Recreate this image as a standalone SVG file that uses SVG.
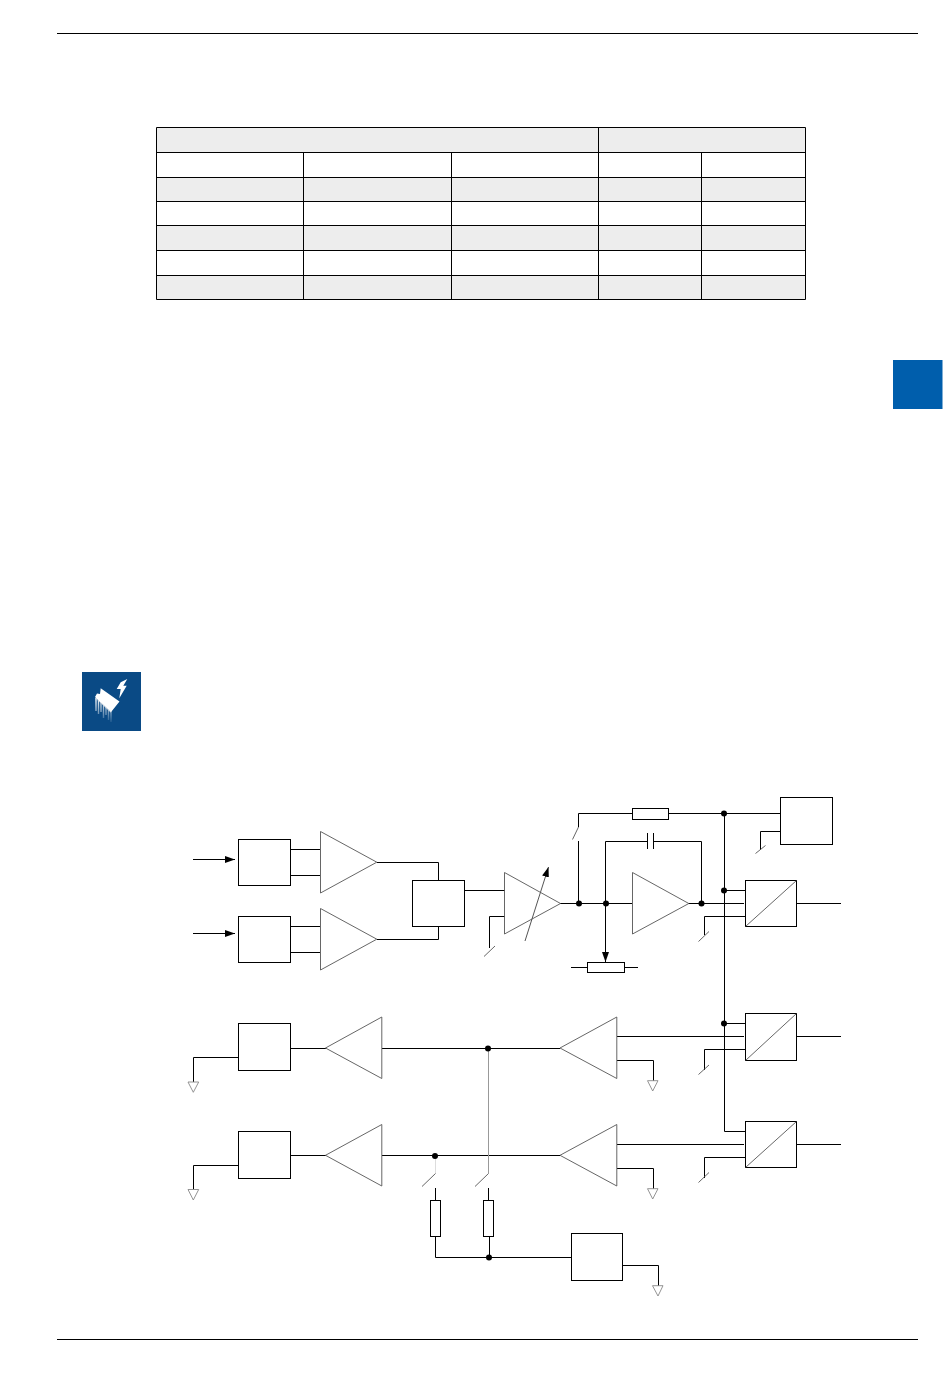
<svg xmlns="http://www.w3.org/2000/svg" width="950" height="1378" viewBox="0 0 950 1378">
<style>
.w{fill:none;stroke:#000;stroke-width:1}
.b{fill:#fff;stroke:#000;stroke-width:1}
.t{fill:#fff;stroke:#555;stroke-width:.9}
.g{fill:#fff;stroke:#888;stroke-width:.9}
.d{fill:#000;stroke:none}
.tick{fill:none;stroke:#555;stroke-width:.9}
.grey{fill:#ededed}
.pin{fill:none;stroke:url(#fade);stroke-width:1.4}
</style>
<defs>
<marker id="ah" markerUnits="userSpaceOnUse" markerWidth="11" markerHeight="8" refX="10" refY="3.5" orient="auto"><path d="M0 0L10 3.5L0 7Z" fill="#000"/></marker>
<linearGradient id="fade" gradientUnits="userSpaceOnUse" x1="0" y1="698" x2="0" y2="722"><stop offset="0" stop-color="#fff"/><stop offset="1" stop-color="#fff" stop-opacity=".1"/></linearGradient>
</defs>
<rect width="950" height="1378" fill="#fff"/>
<g id="page-rules"><path class="w" d="M57 33.5H918M57 1339.5H918"/></g>
<g id="tab"><rect x="893" y="360" width="49.5" height="49" fill="#005eac"/></g>
<g id="table">
<rect class="grey" x="156.5" y="127.5" width="649" height="25"/>
<rect class="grey" x="156.5" y="177.5" width="649" height="24"/>
<rect class="grey" x="156.5" y="225.5" width="649" height="25"/>
<rect class="grey" x="156.5" y="275.5" width="649" height="24"/>
<path class="w" d="M156.5 127.5H805.5V299.5H156.5ZM156.5 152.5H805.5M156.5 177.5H805.5M156.5 201.5H805.5M156.5 225.5H805.5M156.5 250.5H805.5M156.5 275.5H805.5M303.5 152.5V299.5M451.5 152.5V299.5M598.5 127.5V299.5M701.5 152.5V299.5"/>
</g>
<g id="icon">
<rect x="82" y="672" width="59" height="59" fill="#0a4a85"/>
<path fill="#fff" d="M127.3 679L120.7 682.3L116.7 689H120.7L119.3 698.3L126.7 685.7H123.3Z"/>
<path class="pin" d="M96 698V711M98.5 700V714M101 702V712M103.5 704V718M106 706V715M108.5 708V720M111 710V722"/>
<path fill="#fff" d="M95 697L97 693.5L100 694L100.7 688.3L119.5 701.5L110.7 712.5Z"/>
<path fill="none" stroke="#c8d2dc" stroke-width=".8" d="M96 698.5L110.7 711.5"/>
</g>
<g id="connectors">
<path class="w" marker-end="url(#ah)" d="M193 859.5H235"/>
<path class="w" marker-end="url(#ah)" d="M193 933.5H235"/>
<path class="w" d="M290 849.5H320M290 875.5H320M290 926.5H320M290 952.5H320"/>
<path class="w" d="M377 862.5H438.5V880M377 939.5H438.5V926"/>
<path class="w" d="M464 890.5H505M505 916.5H489.5V948"/>
<path class="tick" d="M484 956.5L495 946"/>
<path fill="none" stroke="#555" stroke-width="1" marker-end="url(#ah)" d="M525 941L548.5 867"/>
<path class="w" d="M560 903.5H632M688 903.5H744"/>
<path class="w" d="M578.5 903.5V841M578.5 827V813.5H632M669 813.5H780"/>
<path class="tick" d="M572.5 839.5L578.5 827"/>
<path class="w" d="M780 831.5H760.5V850"/>
<path class="tick" d="M755.5 853.5L765.5 845.5"/>
<path class="w" d="M605.5 903.5V841.5H647.5M653.5 841.5H701.5V903.5"/>
<path class="w" d="M647.5 833V849M653.5 833V849"/>
<path class="w" marker-end="url(#ah)" d="M605.5 903.5V962"/>
<path class="w" d="M571 967.5H587M625 967.5H638"/>
<path class="w" d="M724.5 813.5V1131.5H745M724 890.5H745M724 1023.5H745"/>
<path class="w" d="M745 916.5H704.5V935M745 1049.5H704.5V1070M745 1157.5H704.5V1178"/>
<path class="tick" d="M698.5 941.5L709 931.5M698.5 1074.5L709 1065M698.5 1182.5L709 1172.5"/>
<path class="w" d="M796 903.5H841M796 1036.5H841M796 1144.5H841"/>
<path class="w" d="M617 1036.5H744M617 1144.5H744"/>
<path class="w" d="M617 1060.5H653.5V1081M617 1168.5H653.5V1189"/>
<path class="w" d="M382 1048.5H560M382 1155.5H560M290 1048.5H326M290 1155.5H326"/>
<path class="w" d="M238 1057.5H193.5V1082M238 1165.5H193.5V1189.5"/>
<path fill="none" stroke="#999" stroke-width="1" d="M488.5 1048.5V1173.5"/>
<path fill="none" stroke="#ddd" stroke-width="1" d="M435.5 1155.5V1173.5"/>
<path class="tick" d="M475 1186.5L488.5 1173.5M422 1186.5L435.5 1173.5"/>
<path class="w" d="M488.5 1188V1200M435.5 1188V1200"/>
<path class="w" d="M489.5 1237V1257.5M435.5 1237V1257.5H571"/>
<path class="w" d="M623 1265.5H658.5V1286"/>
</g>
<g id="dots">
<circle class="d" cx="579" cy="903.5" r="3"/>
<circle class="d" cx="606" cy="903.5" r="3"/>
<circle class="d" cx="701.5" cy="903.5" r="3"/>
<circle class="d" cx="724" cy="813.5" r="3"/>
<circle class="d" cx="724" cy="890.5" r="3"/>
<circle class="d" cx="724" cy="1023.5" r="3"/>
<circle class="d" cx="488" cy="1048.5" r="3"/>
<circle class="d" cx="435" cy="1156" r="3"/>
<circle class="d" cx="489" cy="1257.5" r="3"/>
</g>
<g id="input-1"><rect class="b" x="238.5" y="839.5" width="52" height="46"/></g>
<g id="input-2"><rect class="b" x="238.5" y="916.5" width="52" height="46"/></g>
<g id="amp-1"><polygon class="t" points="320.5,831.5 320.5,893 376.8,862.2"/></g>
<g id="amp-2"><polygon class="t" points="320.5,908.5 320.5,970 376.8,939.2"/></g>
<g id="mux"><rect class="b" x="412.5" y="880.5" width="52" height="46"/></g>
<g id="pga"><polygon class="t" points="504.5,872.5 504.5,934 560.5,903.5" fill-opacity="0"/></g>
<g id="res-top"><rect class="b" x="632.5" y="808.5" width="36" height="11"/></g>
<g id="ctrl-box"><rect class="b" x="780.5" y="797.5" width="52" height="47"/></g>
<g id="integrator"><polygon class="t" points="632.5,872.5 632.5,934 688.8,903.5"/></g>
<g id="pot"><rect class="b" x="587.5" y="962.5" width="37" height="10"/></g>
<g id="conv-1"><rect class="b" x="745.5" y="880.5" width="51" height="46"/><path class="tick" d="M745.5 926.5L796.5 880.5"/></g>
<g id="conv-2"><rect class="b" x="745.5" y="1013.5" width="51" height="47"/><path class="tick" d="M745.5 1060.5L796.5 1013.5"/></g>
<g id="conv-3"><rect class="b" x="745.5" y="1121.5" width="51" height="46"/><path class="tick" d="M745.5 1167.5L796.5 1121.5"/></g>
<g id="amp-r1"><polygon class="t" points="616.8,1017 616.8,1078.5 560,1048"/></g>
<g id="amp-r2"><polygon class="t" points="616.8,1124.5 616.8,1186 560,1155.3"/></g>
<g id="amp-l1"><polygon class="t" points="381.8,1017 381.8,1078.5 325.5,1048"/></g>
<g id="amp-l2"><polygon class="t" points="381.8,1124.5 381.8,1186 325.5,1155.3"/></g>
<g id="output-1"><rect class="b" x="238.5" y="1023.5" width="52" height="47"/></g>
<g id="output-2"><rect class="b" x="238.5" y="1131.5" width="52" height="47"/></g>
<g id="res-l"><rect class="b" x="430.5" y="1200.5" width="10" height="36"/></g>
<g id="res-r"><rect class="b" x="483.5" y="1200.5" width="10" height="36"/></g>
<g id="bottom-box"><rect class="b" x="571.5" y="1233.5" width="51" height="47"/></g>
<g id="grounds">
<polygon class="g" points="188,1082 198.7,1082 193.3,1092.3"/>
<polygon class="g" points="188,1189.5 198.7,1189.5 193.3,1200"/>
<polygon class="g" points="647.5,1080.7 658,1080.7 652.7,1091"/>
<polygon class="g" points="647.5,1188.7 658,1188.7 652.7,1199"/>
<polygon class="g" points="652.5,1285.7 663,1285.7 658,1296"/>
</g>
</svg>
